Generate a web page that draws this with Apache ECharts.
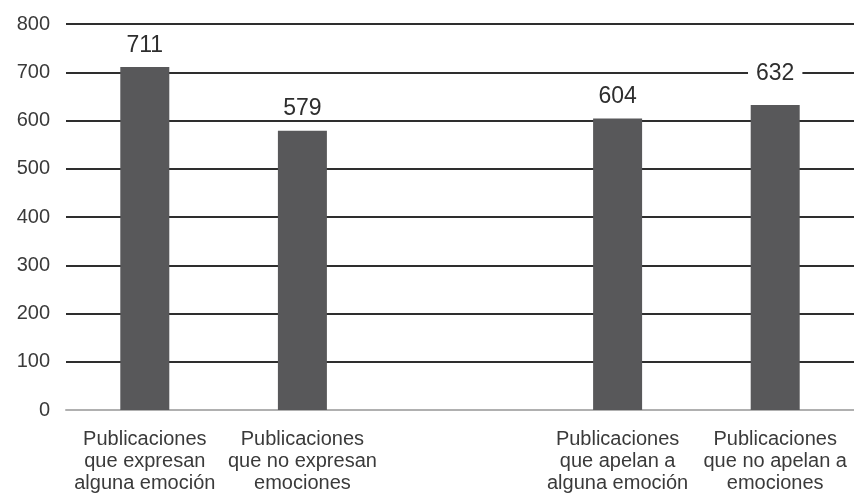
<!DOCTYPE html>
<html><head><meta charset="utf-8">
<script src="https://cdn.jsdelivr.net/npm/echarts@6/dist/echarts.min.js"></script>
<style>html,body{margin:0;padding:0;background:#fff}#c{width:854px;height:495px}</style>
</head><body><div id="c"></div>
<script>
const categories = [
  "Publicaciones\nque expresan\nalguna emoción",
  "Publicaciones\nque no expresan\nemociones",
  "",
  "Publicaciones\nque apelan a\nalguna emoción",
  "Publicaciones\nque no apelan a\nemociones"
];
const values = [711, 579, null, 604, 632];
const yTicks = { min: 0, max: 800, interval: 100 };

// label nudges (style only): raised label gets a white box over the gridline
const labelRaise = [0, 0, 0, 0, 10];

const chart = echarts.init(document.getElementById('c'), null, { renderer: 'canvas' });
chart.setOption({
  backgroundColor: '#fff',
  animation: false,
  grid: { left: 66, top: 24, width: 792, bottom: 85, containLabel: false },
  xAxis: {
    type: 'category',
    data: categories,
    axisTick: { show: false },
    axisLine: { show: true, lineStyle: { color: '#b0b0b0', width: 2 } },
    axisLabel: { interval: 0, color: '#3a3a3a', fontFamily: 'Liberation Sans', fontSize: 20, lineHeight: 22, margin: 18 }
  },
  yAxis: {
    type: 'value',
    min: yTicks.min, max: yTicks.max, interval: yTicks.interval,
    axisLine: { show: false },
    axisTick: { show: false },
    axisLabel: { color: '#3a3a3a', fontFamily: 'Liberation Sans', fontSize: 20, margin: 16 },
    splitLine: { show: true, lineStyle: { color: '#2e2e2e', width: 2 } }
  },
  series: [{
    type: 'bar',
    data: values.map((v, i) => labelRaise[i]
      ? { value: v, label: { offset: [0, -labelRaise[i]], backgroundColor: '#fff', padding: [0, 8] } }
      : v),
    barWidth: 49,
    itemStyle: { color: '#58585a' },
    label: {
      show: true, position: 'top', distance: 10,
      color: '#2e2e2e', fontFamily: 'Liberation Sans', fontSize: 23
    }
  }]
});
</script></body></html>
